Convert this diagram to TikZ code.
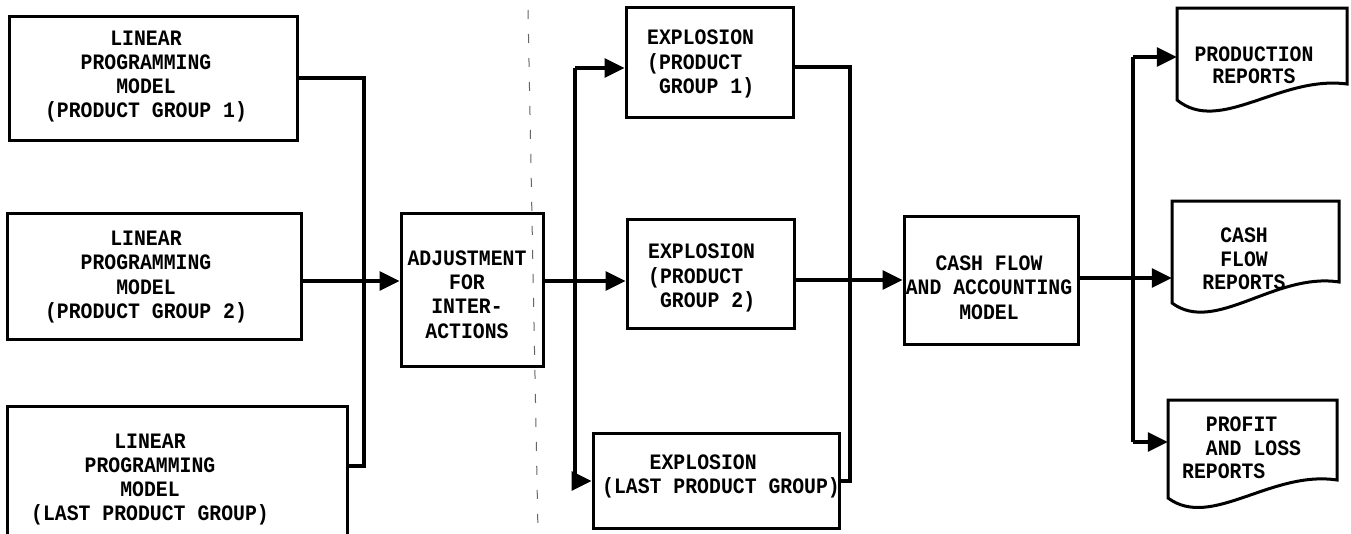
\documentclass[tikz,border=0pt]{standalone}
\usepackage{fontspec}
\newfontfamily\tw[FakeStretch=0.9]{Liberation Mono}
\usetikzlibrary{arrows.meta}
\begin{document}
\begin{tikzpicture}[x=1pt,y=-1pt,
  box/.style={draw, line width=3pt, inner sep=0pt},
  ghost/.style={inner sep=0pt},
  ln/.style={line width=3.2pt},
  arr/.style={ln, -{Triangle[length=20pt,width=19pt]}},
  txt/.style={font=\tw\bfseries\fontsize{22}{24.3}\selectfont, align=center, inner sep=0pt},
  ltxt/.style={txt, align=left, anchor=west},
  doc/.style={line width=3pt, line join=miter}]
\clip (0,0) rectangle (1351,533);
\fill[white] (0,0) rectangle (1351,533);
% scan artifact line
\draw[line width=1pt, black!60, dash pattern=on 9pt off 15pt] (528,10) -- (538,533);
% linear programming models
\node[box, minimum width=288pt, minimum height=124pt] (lp1) at (153,78) {};
\node[box, minimum width=294pt, minimum height=126pt] (lp2) at (154,276) {};
\node[box, minimum width=340pt, minimum height=160pt] (lp3) at (177,486) {};
\node[txt] (tlp1) at (146,76.5) {LINEAR\\PROGRAMMING\\MODEL\\(PRODUCT GROUP 1)};
\node[txt] (tlp2) at (146,277) {LINEAR\\PROGRAMMING\\MODEL\\(PRODUCT GROUP 2)};
\node[txt] (tlp3) at (150,479.5) {LINEAR\\PROGRAMMING\\MODEL\\(LAST PRODUCT GROUP)};
% adjustment
\node[box, minimum width=142pt, minimum height=153pt] (adj) at (472,289.5) {};
\node[txt] (tadj) at (467,294.5) {ADJUSTMENT\\FOR\\INTER-\\ACTIONS};
% explosions
\node[box, minimum width=167pt, minimum height=109.5pt] (ex1) at (709.5,62.3) {};
\node[box, minimum width=167pt, minimum height=109pt] (ex2) at (710.5,273.5) {};
\node[box, minimum width=246pt, minimum height=95pt] (ex3) at (716,480.5) {};
\node[ltxt] (tex1) at (647,64) {EXPLOSION\\(PRODUCT\\\hphantom{X}GROUP 1)};
\node[ltxt] (tex2) at (648,278) {EXPLOSION\\(PRODUCT\\\hphantom{X}GROUP 2)};
\node[ltxt] (tex3) at (602,476.5) {\hphantom{XXXX}EXPLOSION\\(LAST PRODUCT GROUP)};
% cash flow model
\node[box, minimum width=174pt, minimum height=128pt] (cash) at (991,280) {};
\node[txt] (tcash) at (989,287.5) {CASH FLOW\\AND ACCOUNTING\\MODEL};
% report documents
\node[ghost, minimum width=170pt, minimum height=92pt] (pr) at (1262,54) {};
\node[ghost, minimum width=167pt, minimum height=102pt] (cf) at (1255.5,252) {};
\node[ghost, minimum width=169pt, minimum height=98pt] (pl) at (1252.5,449) {};
\draw[doc] (1177,100) -- (1177,8) -- (1347,8) -- (1347,84)
  .. controls (1280,75) and (1220,135) .. cycle;
\draw[doc] (1172,303) -- (1172,201) -- (1339,201) -- (1339,282)
  .. controls (1275,272) and (1215,335) .. cycle;
\draw[doc] (1168,498) -- (1168,400) -- (1337,400) -- (1337,480)
  .. controls (1271,470) and (1211,530) .. cycle;
\node[txt] (tpr) at (1254,65) {PRODUCTION\\[-2.3pt]REPORTS};
\node[txt] (tcf) at (1244,259) {CASH\\[-0.8pt]FLOW\\[-0.8pt]REPORTS};
\node[ltxt] (tpl) at (1182,448) {\hphantom{XX}PROFIT\\[-0.8pt]\hphantom{XX}AND LOSS\\[-0.8pt]REPORTS};
% connectors: LP models to adjustment
\coordinate (jL1) at (364,78);
\coordinate (jL3) at (364,466);
\draw[ln] (lp1.east |- jL1) -- (jL1) -- (jL3) -- (lp3.east |- jL3);
\draw[arr] (lp2.east |- 0,281) -- (adj.west |- 0,281);
% adjustment to explosions
\coordinate (jA1) at (575,68);
\coordinate (jA3) at (575,481);
\draw[ln] (jA1) -- (jA3);
\draw[arr] (jA1) -- (jA1 -| ex1.west);
\draw[arr] (adj.east |- 0,281) -- (ex2.west |- 0,281);
\draw[arr] (jA3) -- (jA3 -| ex3.west);
% explosions to cash flow model
\coordinate (jB1) at (850,67);
\coordinate (jB3) at (850,481);
\draw[ln] (ex1.east |- jB1) -- (jB1) -- (jB3) -- (ex3.east |- jB3);
\draw[arr] (ex2.east |- 0,280) -- (cash.west |- 0,280);
% cash flow model to reports
\coordinate (jC1) at (1133,57);
\coordinate (jC3) at (1133,442);
\draw[ln] (jC1) -- (jC3);
\draw[arr] (cash.east |- 0,278) -- (cf.west |- 0,278);
\draw[arr] (jC1) -- (jC1 -| pr.west);
\draw[arr] (jC3) -- (jC3 -| pl.west);
\end{tikzpicture}
\end{document}
